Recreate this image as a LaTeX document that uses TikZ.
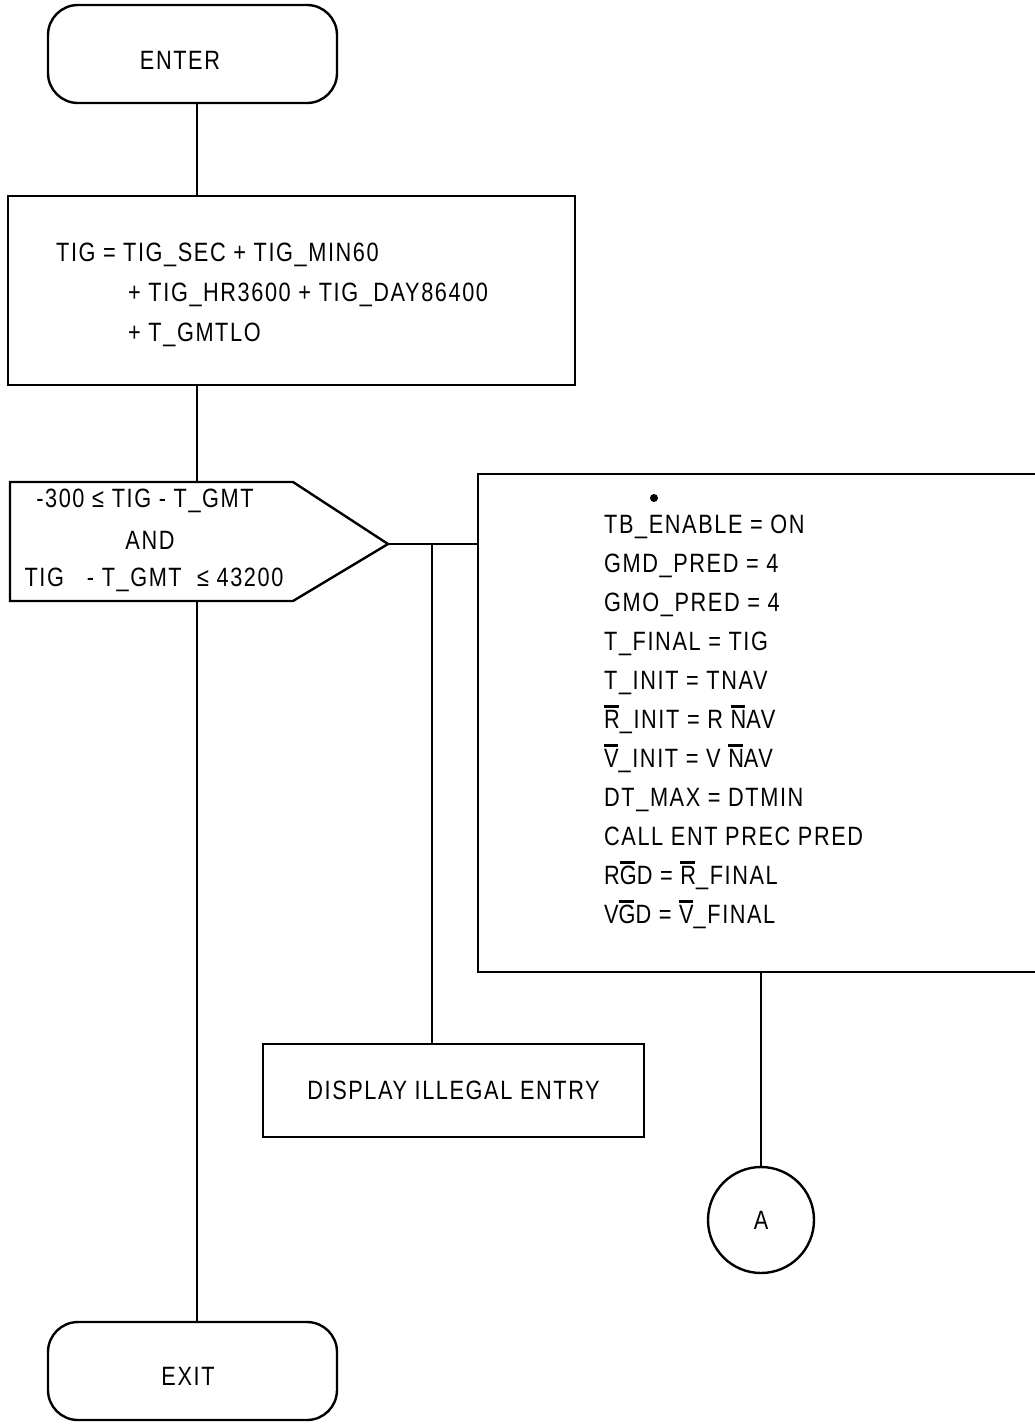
\documentclass[tikz,border=0pt]{standalone}
\usepackage{fontspec}
\setmainfont{Liberation Sans}[FakeStretch=0.82,LetterSpace=6]
\newsavebox\obbox
\newcommand\ob[1]{\sbox\obbox{#1}\rlap{\raisebox{\dimexpr\ht\obbox+2.5pt\relax}{\rule{0.92\wd\obbox}{2.6pt}}}\usebox\obbox}
\begin{document}
\begin{tikzpicture}[x=1pt,y=-1pt,line width=2.4pt,
  every node/.style={font=\fontsize{26.5}{30}\selectfont},
  term/.style={draw,rounded corners=30pt,minimum width=289pt,minimum height=98pt,inner sep=0pt},
  box/.style={draw,inner sep=0pt},
  txt/.style={anchor=west,inner sep=0pt,text height=19pt,text depth=0pt}]
\useasboundingbox (0,0) rectangle (1034,1427);
\fill[white] (0,0) rectangle (1034,1427);
\coordinate (trunk) at (197,0);
% terminals
\node[term] (enter) at (192.5,54) {};
\node at (180,60) {ENTER};
\node[term] (exit) at (192.5,1371) {};
\node at (188,1376) {EXIT};
% box 1
\node[box,minimum width=567pt,minimum height=189pt] (b1) at (291.5,290.5) {};
\node[txt] at (55,252) {TIG =};
\node[txt] at (122,252) {TIG\_SEC + TIG\_MIN60};
\node[txt] at (127,292) {+ TIG\_HR3600 + TIG\_DAY86400};
\node[txt] at (127,332) {+ T\_GMTLO};
% decision
\draw (10,482) coordinate (dtl) -- (293,482) -- (388,544) coordinate (dtip) -- (293,601) -- (10,601) coordinate (dbl) -- cycle;
\node at (145,501) {-300 ≤\ TIG - T\_GMT};
\node at (150,540) {AND};
\node at (154,580) {TIG\ \ \ - T\_GMT\ \ ≤ 43200};
% right box
\draw (1045,474) -- (478,474) coordinate (rtl) -- (478,972) coordinate (rbl) -- (1045,972);
\coordinate (rin) at (478,544);
\fill (654,498) circle (4pt);
\node[txt] at (603,524) {TB\_ENABLE = ON};
\node[txt] at (603,563) {GMD\_PRED = 4};
\node[txt] at (603,602) {GMO\_PRED = 4};
\node[txt] at (603,641) {T\_FINAL = TIG};
\node[txt] at (603,680) {T\_INIT = TNAV};
\node[txt] at (603,719) {\ob{R}\_INIT = R \ob{N}AV};
\node[txt] at (603,758) {\ob{V}\_INIT = V \ob{N}AV};
\node[txt] at (603,797) {DT\_MAX = DTMIN};
\node[txt] at (603,836) {CALL ENT PREC PRED};
\node[txt] at (603,875) {R\ob{G}D = \ob{R}\_FINAL};
\node[txt] at (603,914) {V\ob{G}D = \ob{V}\_FINAL};
% display box
\node[box,minimum width=381pt,minimum height=93pt] (disp) at (453.5,1090.5) {DISPLAY ILLEGAL ENTRY};
% connector A
\node[draw,circle,minimum size=106pt,inner sep=0pt] (A) at (761,1220) {A};
% connectors
\draw (enter.south -| trunk) -- (b1.north -| trunk);
\draw (b1.south -| trunk) -- (dtl -| trunk);
\draw (dbl -| trunk) -- (exit.north -| trunk);
\draw (dtip) -- (rin);
\coordinate (br) at (432,544);
\draw (br) -- (disp.north -| br);
\draw (rbl -| A.north) -- (A.north);
\end{tikzpicture}
\end{document}
